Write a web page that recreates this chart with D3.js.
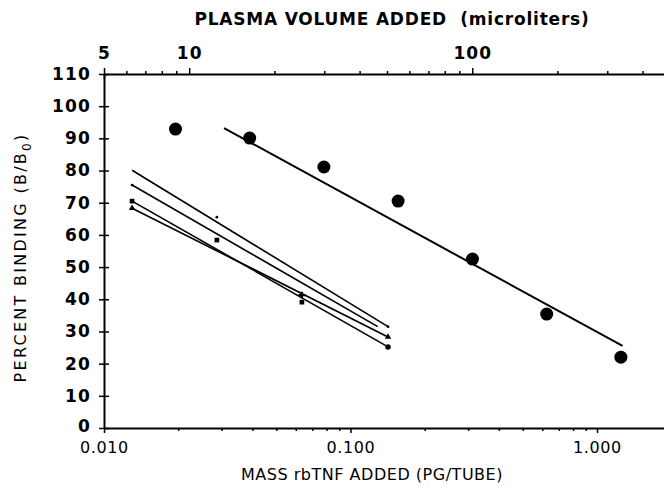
<!DOCTYPE html>
<html>
<head>
<meta charset="utf-8">
<script src="https://cdn.jsdelivr.net/npm/d3@7"></script>
<style>
  body { margin: 0; background: #fff; }
  text { fill: #000; }
</style>
</head>
<body>
<svg id="chart" width="664" height="489"></svg>
<script>
// DATA

// plasma dilutions, plotted at equivalent rbTNF mass (pg/tube)
const plasmaMass = [0.0195, 0.039, 0.078, 0.156, 0.3125, 0.625, 1.25];
const plasmaBinding = [92.9, 90.1, 81.1, 70.5, 52.5, 35.4, 22.0];
const plasmaFitMass = [0.0307, 1.27];
const plasmaFitBinding = [93.2, 25.5];

// rbTNF standard curves: regression lines (start, end)
const stdFitMass = [
  [0.013, 0.142],
  [0.013, 0.129],
  [0.013, 0.142],
  [0.013, 0.142],
];
const stdFitBinding = [
  [80.1, 31.5],
  [75.5, 31.5],
  [70.5, 25.2],
  [68.3, 28.3],
];

// standard points that are still visible
const stdPtMass = [0.013, 0.013, 0.013, 0.0287, 0.0287, 0.0635, 0.0635, 0.142, 0.142, 0.142];
const stdPtBinding = [75.5, 70.5, 68.3, 65.5, 58.4, 41.3, 39.1, 31.5, 28.3, 25.2];
const stdPtShape = ["dot", "square", "triangle", "dot", "square", "cross", "square", "dot", "triangle", "circle"];

// axes
const yTicks = [0, 10, 20, 30, 40, 50, 60, 70, 80, 90, 100, 110];
const massTicks = [0.01, 0.1, 1];
const massTickLabels = ["0.010", "0.100", "1.000"];
const massMinor = [0.02, 0.03, 0.04, 0.05, 0.06, 0.07, 0.08, 0.09,
  0.2, 0.3, 0.4, 0.5, 0.6, 0.7, 0.8, 0.9];
const volTicks = [5, 10, 100];
const volMinor = [6, 7, 8, 9, 20, 30, 40, 50, 60, 70, 80, 90, 200, 300, 400];

// CANVAS SETUP
const svg = d3.select("#chart");
const width = +svg.attr("width");

const x = d3.scaleLog().domain([0.01, 1.87]).range([104, width]);
const xTop = d3.scaleLog().domain([5, 476]).range([104, width]);
const y = d3.scaleLinear().domain([0, 110]).range([428, 74]);

const font = "'DejaVu Sans', 'Liberation Sans', sans-serif";

// stretch a text to a given width with letter spacing
function fitWidth(sel, target) {
  const node = sel.node();
  const n = node.textContent.length;
  const len = node.getComputedTextLength();
  sel.attr("letter-spacing", (target - len) / n);
}

// bottom axis
const gx = svg.append("g").attr("transform", `translate(0,${y(0)})`);
gx.call(d3.axisBottom(x).tickValues(massMinor).tickSize(3).tickSizeOuter(0).tickFormat(""));
gx.append("g").call(
  d3.axisBottom(x).tickValues(massTicks).tickSize(5).tickSizeOuter(0)
    .tickPadding(9).tickFormat((d, i) => massTickLabels[i])
);
gx.selectAll("g g .domain").remove();

// top axis
const gt = svg.append("g").attr("transform", `translate(0,${y(110)})`);
gt.call(d3.axisTop(xTop).tickValues(volMinor).tickSize(3).tickSizeOuter(0).tickFormat(""));
gt.append("g").call(
  d3.axisTop(xTop).tickValues(volTicks).tickSize(6).tickSizeOuter(0)
    .tickPadding(9).tickFormat(d3.format("d"))
);
gt.selectAll("g g .domain").remove();
gt.selectAll(".tick line").filter((d) => d === 5).attr("y2", 5).attr("y1", -6);

// left axis
const gy = svg.append("g").attr("transform", `translate(${x(0.01)},0)`);
gy.call(d3.axisLeft(y).tickValues(yTicks).tickSize(5).tickSizeOuter(0).tickPadding(8));
gy.selectAll(".tick line").attr("x1", 5);
gy.selectAll(".tick text").filter((d) => d === 0).attr("dy", "0.2em");

svg.selectAll(".domain").attr("stroke-width", 2);
svg.selectAll(".tick line").attr("stroke-width", 1.5);

gx.selectAll("text").attr("font-family", font).attr("font-size", 16).attr("letter-spacing", 0.6);
gt.selectAll("text").attr("font-family", font).attr("font-size", 17).attr("font-weight", "bold").attr("letter-spacing", 1);
gy.selectAll("text").attr("font-family", font).attr("font-size", 17).attr("font-weight", "bold").attr("letter-spacing", 1.2);

// titles
const tTop = svg.append("text")
  .attr("x", 392).attr("y", 25)
  .attr("text-anchor", "middle")
  .attr("font-family", font).attr("font-size", 17).attr("font-weight", "bold")
  .attr("xml:space", "preserve")
  .text("PLASMA VOLUME ADDED  (microliters)");
fitWidth(tTop, 395);

const tBottom = svg.append("text")
  .attr("x", 372).attr("y", 480)
  .attr("text-anchor", "middle")
  .attr("font-family", font).attr("font-size", 16)
  .text("MASS rbTNF ADDED (PG/TUBE)");
fitWidth(tBottom, 262);

const yl = svg.append("text")
  .attr("transform", `translate(26,${y(53)}) rotate(-90)`)
  .attr("text-anchor", "middle")
  .attr("font-family", font).attr("font-size", 16);
yl.append("tspan").text("PERCENT BINDING (B/B");
yl.append("tspan").attr("dy", 5).attr("font-size", 12).text("0");
yl.append("tspan").attr("dy", -5).text(")");
fitWidth(yl, 250);

// STANDARD CURVES
const line = d3.line().x((d) => x(d[0])).y((d) => y(d[1]));
stdFitMass.forEach((m, i) => {
  svg.append("path")
    .attr("d", line(m.map((v, j) => [v, stdFitBinding[i][j]])))
    .attr("fill", "none").attr("stroke", "#000").attr("stroke-width", 1.6);
});

const shapes = {
  dot: d3.symbol(d3.symbolCircle, 6),
  square: d3.symbol(d3.symbolSquare, 22),
  triangle: d3.symbol(d3.symbolTriangle, 18),
  cross: d3.symbol(d3.symbolCross, 26),
  circle: d3.symbol(d3.symbolCircle, 24),
};
svg.append("g").selectAll("path")
  .data(stdPtMass.map((m, i) => ({ m, b: stdPtBinding[i], s: stdPtShape[i] })))
  .join("path")
  .attr("transform", (d) => `translate(${x(d.m)},${y(d.b)})`)
  .attr("d", (d) => shapes[d.s]())
  .attr("fill", "#000");

// PLASMA SERIES
svg.append("path")
  .attr("d", line(plasmaFitMass.map((m, i) => [m, plasmaFitBinding[i]])))
  .attr("fill", "none").attr("stroke", "#000").attr("stroke-width", 2);

svg.append("g").selectAll("circle")
  .data(plasmaMass.map((m, i) => [m, plasmaBinding[i]]))
  .join("circle")
  .attr("cx", (d) => x(d[0]))
  .attr("cy", (d) => y(d[1]))
  .attr("r", 6.5)
  .attr("fill", "#000");
</script>
</body>
</html>
